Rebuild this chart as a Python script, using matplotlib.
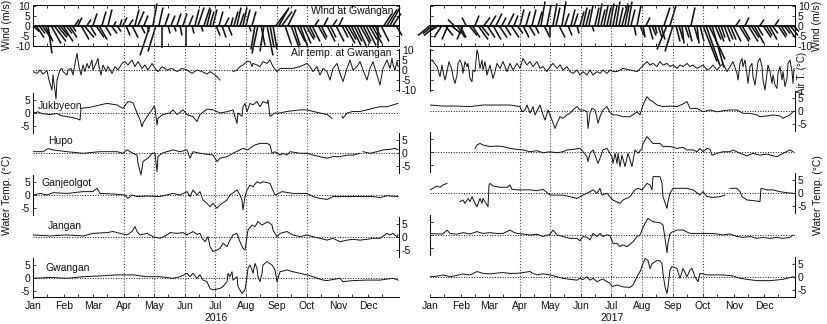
import numpy as np
import matplotlib.pyplot as plt
from matplotlib.collections import LineCollection

plt.rcParams['font.family'] = ['Liberation Sans', 'DejaVu Sans']
plt.rcParams['font.size'] = 7.5
plt.rcParams['axes.unicode_minus'] = False

nan = np.nan

# ---- wind at Gwangan, one stick every 3 days (m/s) ----
wind_days = np.arange(0, 364, 3)
wind16_u = [3, 4, 3, 5, 4, 2, 5, 6, 5, 4,
            5, 3, 4, 2, 2, 2, 4, 5, 2, 3,
            2, 4, 4, 2, 3, 2, 3, 1, 2, 1,
            2, 2, 2, 3, 2, 3, 2, 2, 1, -5,
            2, -4, 2, 0, 2, 1, 2, 1, 2, 1,
            2, 0, 2, 1, 2, 3, 1, 3, 2, 2,
            2, 2, 2, 2, 2, 2, 1, 2, 2, 2,
            2, 2, 1, 2, -2, -3, 2, -2, 3, 2,
            2, 6, 5, 5, 3, 4, 4, 3, 4, 4,
            4, 4, 3, 4, 2, 4, 3, 2, 4, 3,
            2, 4, 2, 3, 5, 4, 5, 4, 5, 5,
            4, 5, 4, 5, 3, 0, 4, 4, 5, 5, 4, 3]
wind16_v = [-3, -6, -4, -7, -8, -14, -9, -8, -6, -5,
            -8, -4, -6, -3, 3, 4, -7, -6, 3, -5,
            6, -6, -7, 7, -5, 8, -4, 2, -3, 3,
            4, -5, 3, -6, 8, 7, -4, 5, -3, -15,
            11, -13, 9, -11, 6, -4, 5, -3, 6, -5,
            6, -10, 5, -4, 8, 9, -3, 9, 8, 7,
            8, -5, 7, -6, 4, -5, 4, 7, 9, 6,
            9, 8, -3, 7, -12, -14, -10, -13, -15, -11,
            -12, 8, 9, 7, -9, 8, -11, -10, -8, -11,
            -9, -7, -6, -8, 3, -7, -6, 4, -8, -6,
            3, -8, 4, -6, -9, -7, -10, -8, -11, -9,
            -8, -10, -7, -9, -6, -11, -8, 6, 8, 9, 6, -5]
wind17_u = [-6, -5, -6, -5, -4, 4, -3, 5, -3, 4,
            3, -3, -2, 4, 4, 2, 5, 4, 3, 4,
            3, 4, 3, 4, 2, 3, 3, 4, 2, 3,
            2, 3, 2, 3, 2, 2, 2, 2, 3, 2,
            0, 2, 2, 3, 2, 2, 2, 2, 2, 1,
            2, 2, 2, 2, 1, 2, 2, 2, 2, 2,
            2, 2, 2, 2, 3, 2, 2, 2, 1, 2,
            2, 1, 2, 2, 2, 1, 2, 2, 3, -5,
            3, -4, 2, 2, 1, 2, 2, 2, 2, 1,
            2, 7, 7, 8, 6, 3, 3, 2, 3, 3,
            3, 4, 2, 5, 4, 2, 5, 4, 5, 3,
            2, 4, 3, 4, 3, 2, 4, 3, 3, 4, 4, 3]
wind17_v = [-5, -4, -5, -3, -6, -5, -7, -4, 3, -6,
            -6, -7, 4, -5, -6, 5, -7, -5, 4, -6,
            5, -7, 6, -6, 4, -5, 6, -6, 5, -4,
            8, -6, 7, -5, 8, -4, 7, 12, -6, 10,
            -5, 11, 9, -6, 12, 6, -5, 8, 6, -4,
            7, 9, 8, 10, -3, 9, 11, 8, 10, 9,
            11, 10, 12, 9, 11, 10, 12, 8, -5, 10,
            -5, -6, 4, -7, -5, -4, -6, -7, 9, -12,
            10, -13, -8, -7, -9, -6, -8, 9, -7, -9,
            -8, -18, -20, -17, -21, -7, -8, -6, -8, -7,
            -7, -8, 3, -8, -7, 4, -8, -6, -9, -5,
            3, -6, -5, -7, -4, 3, -6, -5, -4, -6, -5, -3]

# ---- anomalies, (day of year, degC) ----
air16 = [(0, -0.8), (4, -1.7), (7, 0), (10, -2), (14, -0.3), (16, -5), (19, -10), (20, -2.5), (23, -14.5), (24, -5),
         (27, 0), (29, 0.8), (30, -0.8), (34, -2.5), (35, 0), (38, 0.8), (40, -2.5), (42, 3.3), (44, 8.3), (46, 1.7),
         (48, -2.5), (50, 2.5), (52, -0.8), (54, 3.3), (56, 0.8), (59, 5), (60, 0), (63, 3.3), (65, 5.8), (66, 1.7),
         (68, -2.5), (70, 2.5), (73, -0.8), (75, 1.7), (79, -1.7), (82, 1.7), (85, 0), (89, 3.3), (92, 4.2), (95, 2.5),
         (99, 5), (102, 1.7), (105, 4.2), (109, 0.8), (112, 2.5), (115, 0), (119, 3.3), (122, 0.8), (125, -0.8), (129, 1.7),
         (134, 0), (139, 0.8), (144, -0.8), (149, 0.8), (154, 0), (159, -1.7), (164, 0), (169, -0.8), (174, -2), (177, -0.8),
         (180, -1.7), (184, -3.3), (187, -5), (194, nan), (200, -0.8), (204, 0), (207, 1.7), (210, 2.5), (214, 4.2), (217, 4.2),
         (219, 1.7), (220, 3.3), (224, 2.5), (227, 1.7), (230, 4.2), (234, 3.3), (237, 5), (240, 1.7), (244, -0.8), (247, 0.8),
         (254, 0.8), (260, 0.8), (267, 1.7), (274, 3.3), (277, 1.7), (280, -0.8), (284, 1.7), (287, -2.5), (290, 0.8), (294, -0.8),
         (297, -5), (300, 0.8), (304, 3.3), (307, -1.7), (310, -5.8), (314, 0.8), (317, 5), (320, 0), (324, 1.7), (327, 4.2),
         (330, 0), (334, -5), (337, 0.8), (340, 4.2), (344, -2.5), (347, -7.5), (350, 0.8), (354, 5), (357, 0.8), (359, 5.8),
         (360, 2.5), (362, 0), (364, 4.2), (365, 1.7)]
juk16 = [(0, 0), (5, 0.4), (10, -0.3), (17, -0.6), (24, -0.2), (28, -1.0), (34, -1.4), (40, -1.8), (44, -2.2), (47, -2.7),
         (48, 1.8), (57, 2.2), (67, 3.1), (74, 3.7), (84, 3.1), (87, 2.4), (90, 1.8), (95, 4.4), (100, 4.0), (104, 0),
         (107, -2.6), (109, -5.3), (110, -4.0), (114, -1.4), (119, 1.2), (121, 2.6), (122, 1.8), (124, -4.6), (125, -2.0), (130, -0.6),
         (137, 0), (140, 1.2), (144, -0.6), (150, 1.2), (154, -0.6), (160, -1.4), (164, -3.3), (167, -0.6), (174, 1.5), (180, 1.2),
         (187, 0), (194, 0.5), (200, 1.2), (204, -4.0), (205, 0), (209, -1.3), (210, 2.4), (212, 3.7), (214, 0.5), (217, 3.7),
         (220, 3.1), (224, 4.4), (227, 2.4), (230, 4.4), (234, 3.7), (235, 5.0), (237, -1.3), (242, 0), (247, 0), (254, 0.6),
         (267, 1.2), (274, 1.2), (280, 0.6), (287, 0), (294, -0.6), (299, -2.0), (304, nan), (309, -1.3), (310, -2.0), (314, 0),
         (320, 0.6), (327, 0.6), (334, 1.2), (340, 1.8), (347, 2.4), (354, 2.4), (360, 3.1), (365, 3.7)]
hupo16 = [(0, 0.5), (10, 0.5), (15, 1.7), (20, 1.2), (34, 0.5), (50, -0.1), (67, 0.5), (84, 0.5), (90, -0.1), (94, 1.2),
          (100, -0.1), (104, -0.8), (105, -4.0), (108, -8.5), (110, -3.3), (112, -2.7), (115, -2.0), (119, -0.1), (122, -0.1), (124, -7.2),
          (125, -1.4), (129, -0.1), (134, 0.5), (140, 1.2), (147, 0.5), (154, 1.2), (157, -2.0), (160, 0.5), (167, -0.1), (174, -0.5),
          (180, -0.8), (184, -3.3), (187, -2.0), (194, -1.4), (200, -0.1), (207, 1.2), (210, 1.8), (215, 1.2), (219, 2.4), (222, 3.1),
          (227, 3.7), (234, 3.7), (237, 3.1), (239, -0.1), (242, 0.5), (247, -0.8), (250, -0.1), (254, -0.8), (257, 0.5), (267, -0.1),
          (274, -0.1), (280, -0.8), (287, -1.4), (294, -2.0), (300, -1.4), (307, -1.4), (314, -0.8), (320, -0.8), (327, -0.1), (329, nan),
          (330, 0.5), (337, -0.1), (344, 0.5), (350, 1.2), (357, 1.4), (362, 1.8), (365, 1.2)]
ganj16 = [(0, 0), (7, 0.6), (14, 0), (20, 0.9), (34, 0.6), (50, 1.3), (60, 1.3), (64, 2.6), (67, 0.6), (80, 0.4),
          (92, 0), (95, -1.3), (99, 0), (104, -0.6), (114, -0.4), (127, -0.6), (140, 0.6), (147, 0), (154, 1.3), (157, -0.6),
          (160, 1.9), (164, 0), (167, 1.3), (170, -1.9), (174, -3.2), (177, -4.5), (180, -3.2), (184, -5.1), (187, -3.8), (194, -1.9),
          (197, 0), (204, 1.9), (207, 0), (209, -1.9), (210, -5.8), (212, -0.6), (214, 1.9), (217, 3.8), (220, 3.2), (224, 5.1),
          (227, 4.5), (230, 5.1), (237, 4.5), (239, 2.6), (242, 0), (249, 1.3), (260, 0.6), (274, 0.6), (280, -0.6), (287, -1.3),
          (294, -1.7), (300, -0.6), (314, -0.6), (327, -0.6), (340, -0.6), (347, -1.0), (354, -0.3), (365, -0.6)]
jang16 = [(0, 0.8), (17, 0.4), (34, 0.8), (50, 0.4), (60, 1.4), (74, 1.7), (80, 2.1), (87, 1.4), (94, 0.8), (99, 2.1),
          (102, 4.0), (104, 2.1), (107, 0.8), (114, 1.4), (120, 0.1), (127, -0.5), (134, 0.8), (137, 1.7), (144, 1.4), (150, 1.7),
          (154, 0.8), (160, 2.1), (164, 1.0), (167, 1.4), (169, -0.5), (172, -1.8), (175, 0.1), (177, -3.7), (180, -5.6), (184, -5.0),
          (187, -4.4), (190, -2.4), (194, -3.7), (197, -1.2), (200, 0.8), (204, 1.4), (207, -1.8), (210, -4.4), (212, -5.0), (214, 0.1),
          (215, 2.7), (219, 4.6), (222, 4.0), (225, 5.9), (229, 4.6), (232, 5.3), (235, 5.9), (239, 4.6), (240, 2.7), (244, 0.1),
          (247, 1.4), (254, 2.1), (260, 0.8), (267, 0.1), (274, 0.8), (280, 0.1), (287, -0.5), (294, -1.2), (300, -0.5), (307, -1.8),
          (314, -1.2), (320, -0.9), (327, -1.2), (334, -0.9), (340, -0.5), (347, -0.5), (354, 1.4), (357, 0.8), (360, 1.4), (364, 0.1),
          (365, 0.8)]
gwang16 = [(0, -0.1), (17, 0.2), (34, -0.1), (50, 0.5), (67, 0.8), (84, 1.2), (100, 1.2), (114, 0.5), (127, 0.5), (140, -0.1),
           (147, 0.5), (154, 1.8), (157, 0.5), (160, 1.8), (164, -0.1), (167, 1.2), (170, -0.8), (174, -1.4), (177, -4.0), (180, -4.6),
           (187, -4.0), (190, -3.3), (194, -1.4), (195, 1.8), (197, 0.5), (199, 2.4), (200, -0.8), (204, 0.5), (205, -3.3), (209, -5.9),
           (212, -4.6), (214, 0.5), (215, 3.7), (217, 5.0), (219, 3.1), (220, 1.8), (222, 5.6), (224, 3.7), (225, 0.5), (227, -1.4),
           (229, 1.8), (230, 5.0), (234, 6.3), (239, 5.0), (242, 3.1), (244, -1.4), (247, 2.4), (254, 3.1), (260, 2.4), (267, 1.8),
           (274, 1.2), (280, 0.5), (290, -0.8), (294, -1.0), (307, -0.1), (310, -1.4), (320, -1.0), (334, -0.8), (347, -0.8), (360, -0.1),
           (365, -0.8)]

air17 = [(2, 5), (7, 1.7), (10, -3.3), (12, 2.5), (13, -0.8), (15, -5), (17, -0.8), (19, 4.2), (22, 0), (23, -3.3),
         (25, -6.7), (27, -2.5), (28, 3.3), (30, 5), (32, 2.5), (33, -1.7), (35, 4.2), (37, 1.7), (38, 3.3), (40, -4.2),
         (42, -5.8), (43, 0), (45, -0.8), (47, 10), (48, 8.3), (50, 0.8), (52, 5), (53, 0), (55, 4.2), (57, -2.5),
         (60, 2.5), (63, -4.2), (65, -0.8), (67, 3.3), (70, 0.8), (73, 4.2), (77, -0.8), (80, 3.3), (83, 0), (87, 3.3),
         (90, 0.8), (93, 5.8), (97, 2.5), (100, 4.2), (103, 1.7), (107, 4.2), (110, 0.8), (113, 1.7), (117, -0.8), (120, 1.7),
         (123, 3.3), (127, 0.8), (130, 2.5), (133, 0), (137, 1.7), (140, -0.8), (143, -1.7), (147, 0), (150, -2.5), (153, -0.8),
         (157, -2.5), (160, 0), (163, -2.5), (167, -0.8), (170, -1.7), (173, 0), (177, -1.7), (180, 0), (183, -0.8), (187, -0.8),
         (193, 0.8), (200, 0), (207, -0.8), (212, 1.7), (217, 4.2), (220, 2.5), (223, 3.3), (227, 1.7), (230, 4.2), (233, 2.5),
         (237, 3.3), (240, 1.7), (243, 2.5), (247, 0.8), (250, 2.5), (253, 1.7), (257, 3.3), (260, 1.7), (263, 2.5), (267, 0.8),
         (270, 1.7), (273, 2.5), (277, 0), (280, 0.8), (283, 2.5), (287, 0), (290, 1.7), (293, 3.3), (297, -0.8), (300, 1.7),
         (303, 4.2), (307, -1.7), (308, -5), (310, 3.3), (312, 5.8), (313, 1.7), (315, 5), (317, -2.5), (318, -6.7), (320, 1.7),
         (322, 3.3), (323, -3.3), (325, -7.5), (327, 0), (328, 4.2), (330, 5.8), (332, 1.7), (333, -5), (335, -10), (337, -1.7),
         (338, 2.5), (340, -0.8), (342, -6.7), (343, -2.5), (345, -7.5), (347, -9.2), (348, -1.7), (350, 1.7), (352, -5), (353, -0.8),
         (355, -8.3), (357, -4.2), (358, 3.3), (360, 5), (362, -0.8), (363, -6.7), (364, 0.8)]
juk17 = [(0, 2.3), (13, 1.9), (27, 1.9), (40, 1.7), (53, 2.3), (67, 2.3), (80, 2.3), (90, 1.7), (92, -0.3), (95, 0.4),
         (97, 2.3), (100, -0.8), (103, 1.7), (105, -1.5), (110, 2.3), (113, -1.5), (115, -3.5), (118, 0.4), (122, -3.5), (125, -6.7),
         (127, -4.7), (130, -2.2), (133, -2.8), (137, -1.5), (140, -0.9), (143, 0.4), (147, 1.7), (150, 0.4), (153, 0.4), (157, -0.3),
         (158, -6.7), (160, -0.9), (162, 1.1), (165, 0.4), (167, -2.8), (168, -4.7), (170, -2.2), (173, 0.4), (177, 1.7), (180, -0.6),
         (183, -1.5), (187, -1.5), (193, -2.2), (200, -2.2), (207, -0.3), (210, -1.5), (213, 2.3), (217, 5.5), (220, 4.2), (223, 3.6),
         (227, 2.3), (233, 1.7), (240, 1.9), (247, 1.7), (253, 2.7), (257, 3.6), (260, 1.0), (267, 1.0), (273, -0.3), (280, 0.4),
         (287, -0.3), (293, 0.1), (300, 0.4), (307, 0.4), (313, -0.9), (320, -0.9), (327, -1.5), (330, -2.2), (337, -1.9), (343, -1.5),
         (350, -1.9), (353, -2.8), (360, -1.5), (363, -0.3)]
hupo17 = [(45, 1.4), (47, 2.7), (50, 3.3), (53, 2.7), (60, 2.1), (67, 2.3), (73, 2.1), (80, 1.4), (87, 1.0), (93, 0.8),
          (100, 0.1), (107, 0.5), (113, -0.3), (120, 0.1), (127, -0.3), (133, 0.1), (137, 0.8), (143, 1.0), (150, 1.4), (153, 0.1),
          (157, -1.8), (158, -3.7), (160, -0.5), (163, 0.8), (165, -1.2), (168, -4.4), (170, -2.4), (173, 0.8), (177, 1.4), (182, -1.8),
          (183, -4.4), (185, -0.5), (187, -4.4), (188, -0.5), (190, -5.6), (192, -1.2), (195, -5.6), (198, -0.5), (202, -5.6), (205, 0.8),
          (208, -0.5), (212, 1.4), (213, 3.3), (217, 5.9), (220, 4.6), (223, 3.3), (230, 3.3), (233, 2.1), (240, 2.1), (247, 1.4),
          (253, 1.8), (257, 0.8), (263, 0.8), (267, 0.1), (270, 1.4), (273, 0.1), (277, 1.4), (280, 1.0), (282, -1.2), (287, -0.5),
          (293, 0.1), (300, 0.1), (303, 0.8), (310, -0.5), (317, -1.5), (323, -0.5), (330, -1.2), (337, -0.8), (343, -1.5), (347, -1.8),
          (353, -0.5), (360, 0.8), (363, 0.1)]
ganj17 = [(0, 1.2), (3, 1.8), (7, 2.7), (10, 2.2), (13, 3.1), (17, 3.7), (23, nan), (30, -3.3), (33, -2.7), (35, -4.0),
          (38, -2.1), (40, -3.3), (42, -1.4), (45, -4.0), (47, -5.3), (50, -2.1), (52, -4.0), (53, -2.1), (57, -4.6), (58, -5.3),
          (59, 3.1), (60, 3.7), (63, 2.7), (70, 2.2), (77, 2.2), (80, 3.1), (82, 1.4), (87, 1.2), (93, 1.2), (100, 1.2),
          (107, 0.9), (113, 1.4), (120, -0.8), (127, -0.8), (133, -0.8), (140, -1.4), (147, -2.1), (153, -0.8), (160, 0.5), (163, 1.2),
          (167, -0.1), (170, 1.8), (172, -0.8), (177, -0.1), (180, -1.5), (183, -2.7), (190, -4.0), (193, -2.7), (200, -1.4), (205, 1.2),
          (208, 1.8), (212, 1.2), (217, 3.7), (220, 3.1), (222, 1.2), (223, 6.3), (227, 6.3), (230, 6.3), (232, 3.7), (233, -1.4),
          (237, -5.9), (238, -3.3), (240, -0.1), (243, 1.8), (250, 1.8), (257, 1.8), (263, 1.2), (270, -0.8), (273, 0.5), (277, -1.4),
          (283, -1.7), (290, -1.4), (295, -0.8), (297, nan), (300, 1.8), (307, 1.8), (310, 0.5), (312, -1.4), (317, -2.7), (323, -2.9),
          (330, -3.3), (331, 1.8), (337, 1.2), (343, 1.2), (350, 0.5), (357, 0.1), (363, -0.1)]
jang17 = [(0, 0.6), (7, 0.4), (13, 0.4), (17, 1.9), (20, 0.6), (27, 0.3), (33, 0.9), (40, 0.4), (47, 1.3), (53, 0.6),
          (60, 0.9), (67, 0.6), (73, 0.6), (80, 1.9), (83, 1.2), (87, 0.6), (93, 0.4), (100, 0), (107, 0.3), (113, -0.6),
          (120, 0.3), (123, 1.9), (127, 0), (133, -0.6), (140, -1.3), (147, -1.3), (150, -2.2), (153, -0.6), (157, -0.9), (160, -1.9),
          (163, 0.6), (167, -0.6), (170, 0.6), (173, -0.6), (177, 0.1), (180, -0.3), (183, -3.2), (187, -3.2), (190, -4.5), (193, -3.8),
          (197, -4.5), (203, -2.6), (207, -0.6), (210, 0), (212, 1.9), (215, 4.5), (218, 6.4), (223, 5.1), (230, 4.7), (233, 3.8),
          (235, -1.3), (237, -6.8), (238, -3.2), (240, 0.6), (243, 1.3), (247, 1.9), (253, 1.9), (260, 0.6), (267, 0.6), (273, 0.6),
          (280, 0.6), (287, 0.4), (293, 0), (300, 0.4), (307, -0.6), (313, -0.9), (320, -0.6), (327, -1.3), (333, -0.9), (340, -1.3),
          (347, -0.9), (353, -1.3), (360, -0.9), (363, 0)]
gwang17 = [(0, 0.1), (7, 0.3), (13, 0.8), (20, 0.1), (27, 0.6), (33, 1.2), (40, 0.8), (47, 2.1), (53, 1.4), (60, 1.2),
           (67, 1.5), (73, 1.7), (80, 1.4), (87, 1.4), (93, 1.7), (100, 2.1), (103, 1.4), (107, 0.8), (113, 1.2), (120, 0.8),
           (127, 0.1), (133, -0.5), (140, -0.9), (147, -1.2), (150, -0.5), (153, -1.0), (157, 0.1), (160, -1.2), (163, -0.5), (167, -1.8),
           (170, -1.2), (173, -0.8), (177, -1.8), (180, -2.4), (182, -3.7), (187, -3.1), (193, -3.8), (200, -4.0), (203, -3.1), (207, 0.1),
           (210, 2.1), (213, 5.1), (215, 7.1), (218, 6.4), (220, 3.2), (222, 5.1), (227, 6.4), (230, 6.2), (232, 5.1), (233, 1.4),
           (235, -3.8), (237, -6.3), (238, -3.8), (240, 2.7), (242, 4.0), (247, 3.3), (250, -0.5), (253, 3.3), (257, 0.1), (260, 2.7),
           (262, 3.3), (265, 0.1), (268, -1.8), (270, 1.4), (277, 0.8), (283, 0.8), (293, 0.8), (303, 0.4), (310, -0.5), (317, -0.9),
           (327, -1.4), (340, -1.4), (353, -0.9), (363, 0.1)]

stations = ['Jukbyeon', 'Hupo', 'Ganjeolgot', 'Jangan', 'Gwangan']
months = ['Jan', 'Feb', 'Mar', 'Apr', 'May', 'Jun', 'Jul', 'Aug', 'Sep', 'Oct', 'Nov', 'Dec']

# ---- layout in pixels ----
FIG_W, FIG_H = 827, 324
WIND_TOP, WIND_BOT = 5, 46
LOW_TOP, LOW_BOT = 47, 297
STICK = 2.0          # days of x per m/s of east wind, keeps sticks isotropic
INK = '#111111'

fig = plt.figure(figsize=(FIG_W / 100, FIG_H / 100), dpi=100)


def px_axes(x0, x1, y0, y1):
    ax = fig.add_axes([x0 / FIG_W, 1 - y1 / FIG_H, (x1 - x0) / FIG_W, (y1 - y0) / FIG_H])
    ax.patch.set_visible(False)
    return ax


def px_text(x, y, s, **kw):
    kw.setdefault('ha', 'center')
    kw.setdefault('va', 'center')
    fig.text(x / FIG_W, 1 - y / FIG_H, s, color=INK, **kw)


def month_starts(year):
    lengths = [31, 29 if year % 4 == 0 else 28, 31, 30, 31, 30, 31, 31, 30, 31, 30, 31]
    return np.concatenate([[0], np.cumsum(lengths)[:-1]])


panels = [
    dict(year=2016, x0=33, x1=399, side='left', u=wind16_u, v=wind16_v,
         rows=[(air16, 70, 2.0, 'right', True),
               (juk16, 113, 2.6, 'left', True),
               (hupo16, 153, 2.6, 'right', True),
               (ganj16, 195, 2.6, 'left', True),
               (jang16, 237, 2.6, 'right', True),
               (gwang16, 278, 2.6, 'left', True)]),
    dict(year=2017, x0=430, x1=795, side='right', u=wind17_u, v=wind17_v,
         rows=[(air17, 70, 2.0, 'left', False),
               (juk17, 111, 2.6, 'right', True),
               (hupo17, 152, 2.6, 'left', False),
               (ganj17, 193, 2.6, 'right', True),
               (jang17, 235, 2.6, 'left', False),
               (gwang17, 277, 2.6, 'right', True)]),
]

for p in panels:
    year = p['year']
    ndays = 366 if year % 4 == 0 else 365
    starts = month_starts(year)
    mids = starts + 14
    dotted = starts[3:10]   # Apr .. Oct
    x0, x1 = p['x0'], p['x1']

    # wind sticks
    axw = px_axes(x0, x1, WIND_TOP, WIND_BOT)
    axw.set_xlim(0, ndays)
    axw.set_ylim(-10.25, 10.25)
    segs = [[(d, 0), (d + STICK * u, v)] for d, u, v in zip(wind_days, p['u'], p['v'])]
    axw.add_collection(LineCollection(segs, colors=INK, linewidths=1.15, clip_on=False))
    axw.axhline(0, color=INK, lw=1.4)
    for m in dotted:
        axw.axvline(m, color='0.3', ls=':', lw=0.8)
    axw.set_xticks(starts)
    axw.set_xticks(mids, minor=True)
    axw.tick_params(axis='x', which='both', direction='in', length=2.5, width=0.6,
                    top=True, bottom=True, labelbottom=False)
    axw.set_yticks([-10, -5, 0, 5, 10])
    axw.tick_params(axis='y', direction='in', length=2.5, width=0.6, pad=2,
                    left=True, right=True, colors=INK,
                    labelleft=p['side'] == 'left', labelright=p['side'] == 'right')
    for sp in axw.spines.values():
        sp.set_linewidth(0.7)

    # month axis and dotted month lines
    axb = px_axes(x0, x1, LOW_TOP, LOW_BOT)
    axb.set_xlim(0, ndays)
    axb.set_ylim(0, 1)
    for name, sp in axb.spines.items():
        sp.set_visible(name == 'bottom')
        sp.set_linewidth(0.7)
    axb.set_yticks([])
    axb.set_xticks(starts)
    axb.set_xticklabels(months)
    axb.set_xticks(mids, minor=True)
    axb.tick_params(axis='x', which='both', direction='in', length=2.5, width=0.6, pad=3, colors=INK)
    for m in dotted:
        axb.axvline(m, color='0.3', ls=':', lw=0.8)
    px_text((x0 + x1) / 2, 318, str(year))

    # air and water temperature anomalies, stacked
    for data, y0, scale, sside, labels in p['rows']:
        ax = px_axes(x0, x1, LOW_TOP, LOW_BOT)
        ax.set_xlim(0, ndays)
        ax.set_ylim(-(LOW_BOT - y0) / scale, (y0 - LOW_TOP) / scale)
        ax.axhline(0, color=INK, ls=':', lw=0.7)
        d, val = np.array(data, dtype=float).T
        ax.plot(d, val, color=INK, lw=0.7)
        for name, sp in ax.spines.items():
            sp.set_visible(name == sside)
            sp.set_linewidth(0.7)
        air = scale == 2.0
        lim = 10.7 if air else 7.7
        ax.spines[sside].set_bounds(-lim, lim)
        ax.set_xticks([])
        ax.set_yticks([-10, -5, 0, 5, 10] if air else [-5, 0, 5])
        ax.yaxis.set_ticks_position(sside)
        ax.tick_params(axis='y', direction='in', length=2.5, width=0.6, pad=2, colors=INK,
                       labelleft=labels and sside == 'left',
                       labelright=labels and sside == 'right')

# labels
px_text(393, 11, 'Wind at Gwangan', ha='right')
px_text(391, 53, 'Air temp. at Gwangan', ha='right')
for name, (x, y) in zip(stations, [(38, 106), (48, 141), (42, 183), (48, 226), (45, 268)]):
    px_text(x, y, name, ha='left')

px_text(7, 25, 'Wind (m/s)', rotation=90)
px_text(7, 195, 'Water Temp. (°C)', rotation=90)
px_text(817, 26, 'Wind (m/s)', rotation=90)
px_text(802, 73, 'Air T. (°C)', rotation=90, fontsize=7)
px_text(818, 195, 'Water Temp. (°C)', rotation=90)

fig.savefig('out.png', dpi=100)
